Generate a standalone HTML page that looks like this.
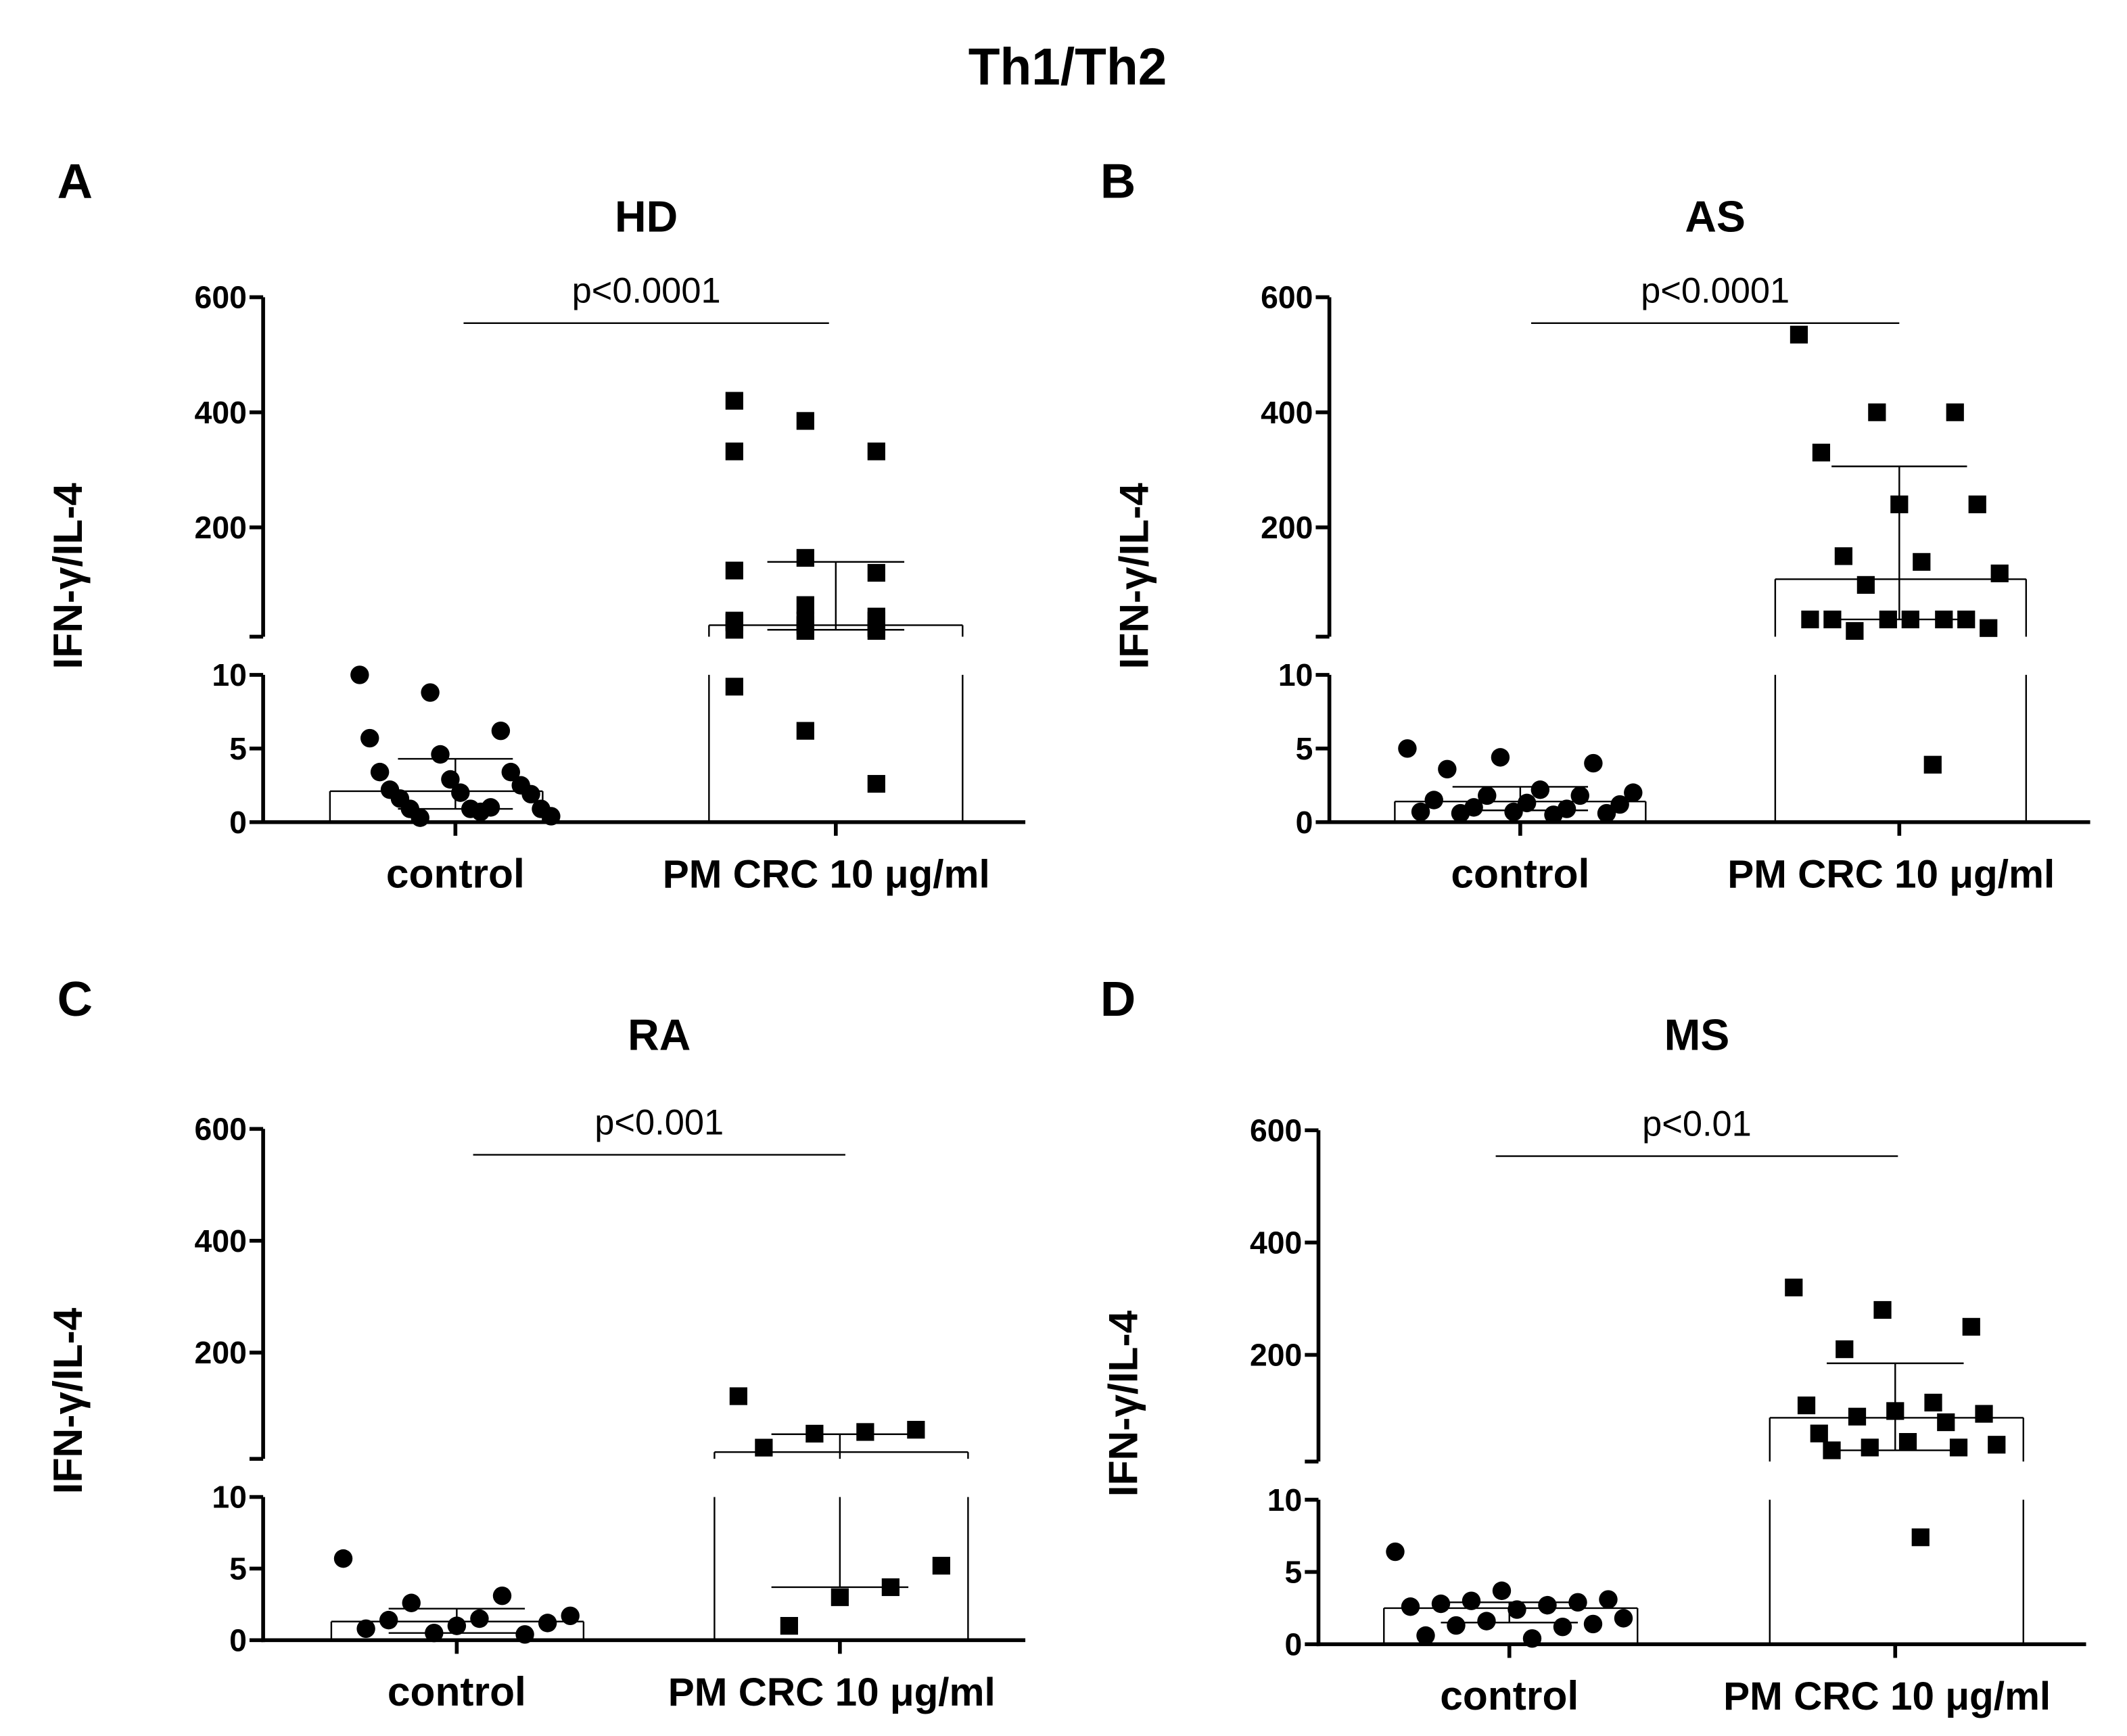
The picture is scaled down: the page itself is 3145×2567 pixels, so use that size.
<!DOCTYPE html>
<html><head><meta charset="utf-8"><style>
html,body{margin:0;padding:0;background:#fff}
svg{display:block}
text{font-family:"Liberation Sans",sans-serif;fill:#000}
</style></head><body>
<svg id="fig" width="3145" height="2567" viewBox="0 0 1560 1273.3" xmlns="http://www.w3.org/2000/svg">
<text x="783" y="62" font-size="38" font-weight="bold" text-anchor="middle">Th1/Th2</text>
</svg>
<script>
const panelLetters = ['A','B','C','D'];
const panelTitles = ['HD','AS','RA','MS'];
const pTexts = ['p<0.0001','p<0.0001','p<0.001','p<0.01'];
const categories = ['control','PM CRC 10 μg/ml'];
const topTicks = [600,400,200];
const lowTicks = [10,5,0];
// control values per panel
const ctrlA = [10.0,8.8,6.2,5.7,4.6,3.4,3.4,2.9,2.5,2.2,2.0,1.9,1.6,0.9,0.9,0.9,0.7,0.4,0.3,1.0];
const ctrlB = [5.0,4.4,4.0,3.6,2.2,2.0,1.8,1.8,1.5,1.3,1.2,1.0,0.9,0.7,0.7,0.6,0.6,0.5];
const ctrlC = [5.7,3.1,2.6,1.7,1.5,1.4,1.2,1.0,0.8,0.4,0.5];
const ctrlD = [6.4,3.7,3.1,3.0,2.9,2.8,2.7,2.6,2.4,1.8,1.6,1.4,1.3,1.2,0.6,0.4];
// PM values per panel
const pmA = [420,385,332,332,147,121,125,65,45,38,38,38,35,30,25,22,20,20,9.2,6.2,2.6];
const pmB = [535,400,400,330,240,240,150,140,120,100,40,40,40,40,40,40,25,20,3.9];
const pmC = [122,62,58,55,30,5.2,3.7,3.0,1.0];
const pmD = [320,280,250,210,115,110,100,95,90,80,60,45,40,35,35,30,7.4];
// bar heights [control, PM] and error bars [low, high]
const barsA = [2.1,30], errLowA = [0.9,22], errHighA = [4.3,140];
const barsB = [1.4,110], errLowB = [0.8,40], errHighB = [2.4,306];
const barsC = [1.3,22], errLowC = [0.5,3.7], errHighC = [2.2,54];
const barsD = [2.5,88], errLowD = [1.5,30], errHighD = [2.9,185];

const layouts = [
 {ax:193, xEnd:752, y600:218, yBrk:467, y10:495, y0:603, cx:[334,613], bars:[[242,398],[520,706]], pl:[340,608], lx:55, ly:130},
 {ax:975, xEnd:1533, y600:218, yBrk:467, y10:495, y0:603, cx:[1115,1393], bars:[[1023,1207],[1302,1486]], pl:[1123,1393], lx:820, ly:130},
 {ax:193, xEnd:752, y600:828, yBrk:1070, y10:1098, y0:1203, cx:[335,616], bars:[[243,428],[524,710]], pl:[347,620], lx:55, ly:730},
 {ax:967, xEnd:1530, y600:829, yBrk:1072, y10:1100, y0:1206, cx:[1107,1390], bars:[[1015,1201],[1298,1484]], pl:[1097,1392], lx:820, ly:730}
];
const ctrls=[ctrlA,ctrlB,ctrlC,ctrlD], pms=[pmA,pmB,pmC,pmD];
const barsAll=[barsA,barsB,barsC,barsD], lows=[errLowA,errLowB,errLowC,errLowD], highs=[errHighA,errHighB,errHighC,errHighD];
const svg=document.getElementById('fig');
const NS='http://www.w3.org/2000/svg';
function mk(tag,attrs,parent){const e=document.createElementNS(NS,tag);for(const k in attrs)e.setAttribute(k,attrs[k]);(parent||svg).appendChild(e);return e;}

layouts.forEach((L,p)=>{
  const g=mk('g',{});
  
  
  const yS=v=> v<=10 ? L.y0-(v/10)*(L.y0-L.y10) : L.yBrk-(v-10)/590*(L.yBrk-L.y600);
  function vline(x,a,b,w,name){
    const lo=Math.min(a,b), hi=Math.max(a,b);
    if(lo<10){const l=mk('line',{x1:x,x2:x,y1:yS(lo),y2:yS(Math.min(hi,10)),stroke:'#000','stroke-width':w},g);}
    if(hi>10){const l=mk('line',{x1:x,x2:x,y1:yS(Math.max(lo,10)),y2:yS(hi),stroke:'#000','stroke-width':w},g);
      if(lo<10) l.setAttribute('y1',L.yBrk);
      }
  }
  let t=mk('text',{x:L.lx,y:L.ly+15,'font-size':36,'font-weight':'bold','text-anchor':'middle'},g);t.textContent=panelLetters[p];
  
  t=mk('text',{x:(L.pl[0]+L.pl[1])/2,y:L.ly+40,'font-size':32,'font-weight':'bold','text-anchor':'middle'},g);t.textContent=panelTitles[p];
  
  t=mk('text',{x:(L.pl[0]+L.pl[1])/2,y:L.y600+4,'font-size':26,'text-anchor':'middle'},g);t.textContent=pTexts[p];
  
  let l=mk('line',{x1:L.pl[0],x2:L.pl[1],y1:L.y600+19,y2:L.y600+19,stroke:'#000','stroke-width':1.2},g);
  
  l=mk('line',{x1:L.ax,x2:L.ax,y1:L.y600,y2:L.yBrk,stroke:'#000','stroke-width':2.8},g);
  
  l=mk('line',{x1:L.ax,x2:L.ax,y1:L.y10,y2:L.y0+1.4,stroke:'#000','stroke-width':2.8},g);
  
  l=mk('line',{x1:L.ax-10,x2:L.ax,y1:L.yBrk,y2:L.yBrk,stroke:'#000','stroke-width':2.8},g);
  
  l=mk('line',{x1:L.ax-1.4,x2:L.xEnd,y1:L.y0,y2:L.y0,stroke:'#000','stroke-width':2.8},g);
  
  topTicks.concat(lowTicks).forEach(v=>{
    const y=yS(v);
    const tk=mk('line',{x1:L.ax-10,x2:L.ax,y1:y,y2:y,stroke:'#000','stroke-width':2.8},g);
    
    const tl=mk('text',{x:L.ax-12,y:y+8,'font-size':23,'font-weight':'bold','text-anchor':'end'},g);tl.textContent=v;
    
  });
  t=mk('text',{x:0,y:0,'font-size':30,'font-weight':'bold','text-anchor':'middle',transform:`translate(${L.ax-133},${(L.y600+L.y0)/2+12}) rotate(-90)`},g);
  t.textContent='IFN-γ/IL-4';
  const bars=barsAll[p];
  [0,1].forEach(c=>{
    const [x1,x2]=L.bars[c]; const cx=L.cx[c];
    const tk=mk('line',{x1:cx,x2:cx,y1:L.y0,y2:L.y0+10,stroke:'#000','stroke-width':2.8},g);
    
    const xl=mk('text',{x:c?(x1+x2)/2-7:cx,y:L.y0+48,'font-size':c?29:30,'font-weight':'bold','text-anchor':'middle'},g);
    xl.textContent=categories[c];
    const bv=bars[c];
    vline(x1,0,bv,1.2,'bar-side');
    vline(x2,0,bv,1.2,'bar-side');
    const bt=mk('line',{x1:x1,x2:x2,y1:yS(bv),y2:yS(bv),stroke:'#000','stroke-width':1.2},g);
    
    const vals=c?pms[p]:ctrls[p]; const n=vals.length; const bw=x2-x1;
    vals.forEach((v,i)=>{
      const f=n>1?((i*7)%n)/(n-1):0.5;
      const x=cx+(f-0.5)*bw*(c?0.8:0.9); const y=yS(v);
      let m;
      if(c===0){m=mk('circle',{cx:x,cy:y,r:6.8,fill:'#000'},g);}
      else{m=mk('rect',{x:x-6.5,y:y-6.5,width:13,height:13,fill:'#000'},g);}
      
    });
    const lo=lows[p][c], hi=highs[p][c];
    vline(cx,lo,hi,1.2,'error-bar');
    const cw=bw*0.27;
    [lo,hi].forEach(v=>{
      const e=mk('line',{x1:cx-cw,x2:cx+cw,y1:yS(v),y2:yS(v),stroke:'#000','stroke-width':1.2},g);
      
    });
  });
});
</script>
</body></html>
